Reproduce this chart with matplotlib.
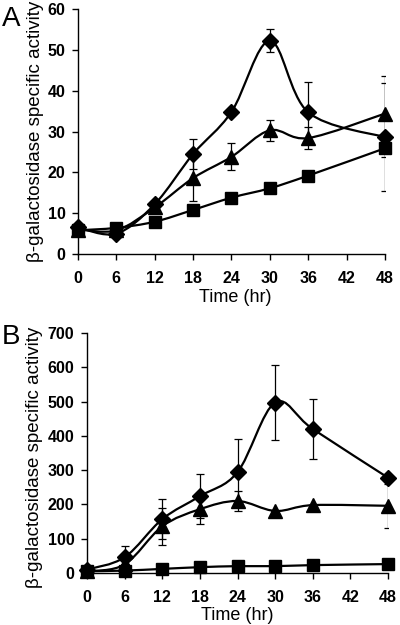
import numpy as np
import matplotlib
matplotlib.use("Agg")
import matplotlib.pyplot as plt
from matplotlib.path import Path
from matplotlib.patches import PathPatch

plt.rcParams['font.family'] = ['Liberation Sans', 'DejaVu Sans']

hours = [0, 6, 12, 18, 24, 30, 36, 48]
xticks = [0, 6, 12, 18, 24, 30, 36, 42, 48]

# panel A
a_diamond = [6.5, 5.0, 12.2, 24.5, 34.8, 52.2, 34.7, 28.6]
a_diamond_err = [0, 0, 0, 3.7, 0, 2.8, 7.5, 13.2]
a_triangle = [6.0, 5.8, 11.4, 18.6, 23.8, 30.3, 28.4, 34.4]
a_triangle_err = [0, 0, 0, 5.5, 3.3, 2.6, 2.8, 9.1]
a_square = [5.8, 6.4, 7.9, 10.8, 13.8, 16.1, 19.2, 25.9]
a_square_err = [0, 0, 0, 0, 0, 0, 0, 2.1]

# panel B
b_diamond = [10, 46, 157, 224, 294, 497, 420, 278]
b_diamond_err = [0, 32, 58, 65, 97, 110, 87, 10]
b_triangle = [5, 25, 136, 186, 210, 181, 198, 196]
b_triangle_err = [0, 0, 54, 42, 28, 0, 0, 64]
b_square = [5, 7, 12, 17, 20, 20, 23, 26]
b_square_err = [0, 0, 0, 0, 0, 0, 0, 0]


def smooth_path(x, y):
    # Excel-style smoothed line: Catmull-Rom converted to cubic Bezier
    pts = np.column_stack([x, y]).astype(float)
    n = len(pts)
    verts = [pts[0]]
    codes = [Path.MOVETO]
    for i in range(n - 1):
        p0 = pts[i - 1] if i > 0 else pts[i]
        p1 = pts[i]
        p2 = pts[i + 1]
        p3 = pts[i + 2] if i + 2 < n else pts[i + 1]
        c1 = p1 + (p2 - p0) / 6.0
        c2 = p2 - (p3 - p1) / 6.0
        verts += [c1, c2, p2]
        codes += [Path.CURVE4] * 3
    return Path(verts, codes)


def draw_series(ax, y, err, marker, ms):
    ax.add_patch(PathPatch(smooth_path(hours, y), fill=False, lw=1.6,
                           edgecolor='black', zorder=3))
    ax.errorbar(hours, y, yerr=err, fmt='none', ecolor='black',
                elinewidth=0.9, capsize=3, capthick=0.9, zorder=2)
    ax.plot(hours, y, linestyle='none', marker=marker, ms=ms,
            color='black', zorder=4, clip_on=False)


fig = plt.figure(figsize=(4.0, 6.25), dpi=100)

axA = fig.add_axes([0.195, 0.5936, 0.7675, 0.392])
axB = fig.add_axes([0.2175, 0.0832, 0.7525, 0.384])

panels = [
    (axA, [(a_diamond, a_diamond_err, 'D', 8.5),
           (a_triangle, a_triangle_err, '^', 9.5),
           (a_square, a_square_err, 's', 8)], 60, 10,
     (-0.137, 0.5), (0.511, -0.143)),
    (axB, [(b_diamond, b_diamond_err, 'D', 8.5),
           (b_triangle, b_triangle_err, '^', 9.5),
           (b_square, b_square_err, 's', 8)], 700, 100,
     (-0.175, 0.48), (0.498, -0.143)),
]

for ax, series, ymax, ystep, ylab_xy, xlab_xy in panels:
    for y, err, m, ms in series:
        draw_series(ax, y, err, m, ms)
    ax.set_xlim(0, 48)
    ax.set_ylim(0, ymax)
    ax.set_xticks(xticks)
    ax.set_yticks(np.arange(0, ymax + 1, ystep))
    ax.spines['top'].set_visible(False)
    ax.spines['right'].set_visible(False)
    ax.spines['left'].set_linewidth(1.0)
    ax.spines['bottom'].set_linewidth(1.0)
    ax.tick_params(direction='out', length=4, width=1.0, labelsize=11.5)
    ax.tick_params(axis='x', pad=8.5)
    ax.tick_params(axis='y', pad=5)
    for lbl in ax.get_xticklabels() + ax.get_yticklabels():
        lbl.set_fontweight('bold')
    ax.set_xlabel('Time (hr)', fontsize=13, va='top')
    ax.set_ylabel('β-galactosidase specific activity', fontsize=13.5, va='center')
    ax.xaxis.set_label_coords(*xlab_xy)
    ax.yaxis.set_label_coords(*ylab_xy)

fig.text(0.005, 0.99, 'A', fontsize=20, va='top', ha='left')
fig.text(0.005, 0.482, 'B', fontsize=20, va='top', ha='left')

fig.savefig('out.png', dpi=100)
